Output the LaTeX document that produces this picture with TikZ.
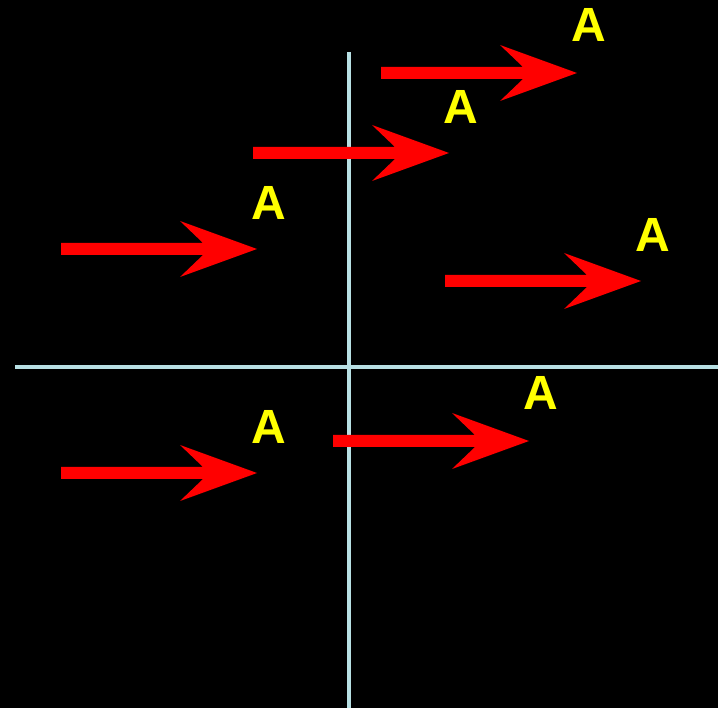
\documentclass[tikz,border=0pt]{standalone}
\usepackage{fontspec}
\setmainfont{Liberation Sans}
\definecolor{axiscol}{RGB}{184,224,228}
\definecolor{labcol}{RGB}{255,255,0}
\tikzset{
  axisline/.style={draw=axiscol,line width=4.5pt},
  lab/.style={text=labcol,font=\bfseries\fontsize{48}{52}\selectfont,anchor=base,inner sep=0pt},
  redarrow/.style={fill=red}
}
\newcommand{\redarr}[3]{% start x, y, tip x
  \fill[redarrow] (#1,#2-6) -- (#3-54,#2-6) -- (#3-77,#2-28) -- (#3,#2) -- (#3-77,#2+28) -- (#3-54,#2+6) -- (#1,#2+6) -- cycle;}
\begin{document}
\begin{tikzpicture}[x=1pt,y=-1pt]
\fill[black] (0,0) rectangle (718,708);
\useasboundingbox (0,0) rectangle (718,708);
\coordinate (vtop) at (349,52);
\coordinate (vbot) at (349,708);
\coordinate (hl) at (15,367);
\coordinate (hr) at (718,367);
\draw[axisline] (vtop) -- (vbot);
\draw[axisline] (hl) -- (hr);
\redarr{381}{73}{577}
\redarr{253}{153}{449}
\redarr{61}{249}{257}
\redarr{445}{281}{641}
\redarr{61}{473}{257}
\redarr{333}{441}{529}
\node[lab] (a1) at (589,42) {A};
\node[lab] (a2) at (461,124) {A};
\node[lab] (a3) at (269,220) {A};
\node[lab] (a4) at (653,252) {A};
\node[lab] (a5) at (541,410) {A};
\node[lab] (a6) at (269,444) {A};
\end{tikzpicture}
\end{document}
